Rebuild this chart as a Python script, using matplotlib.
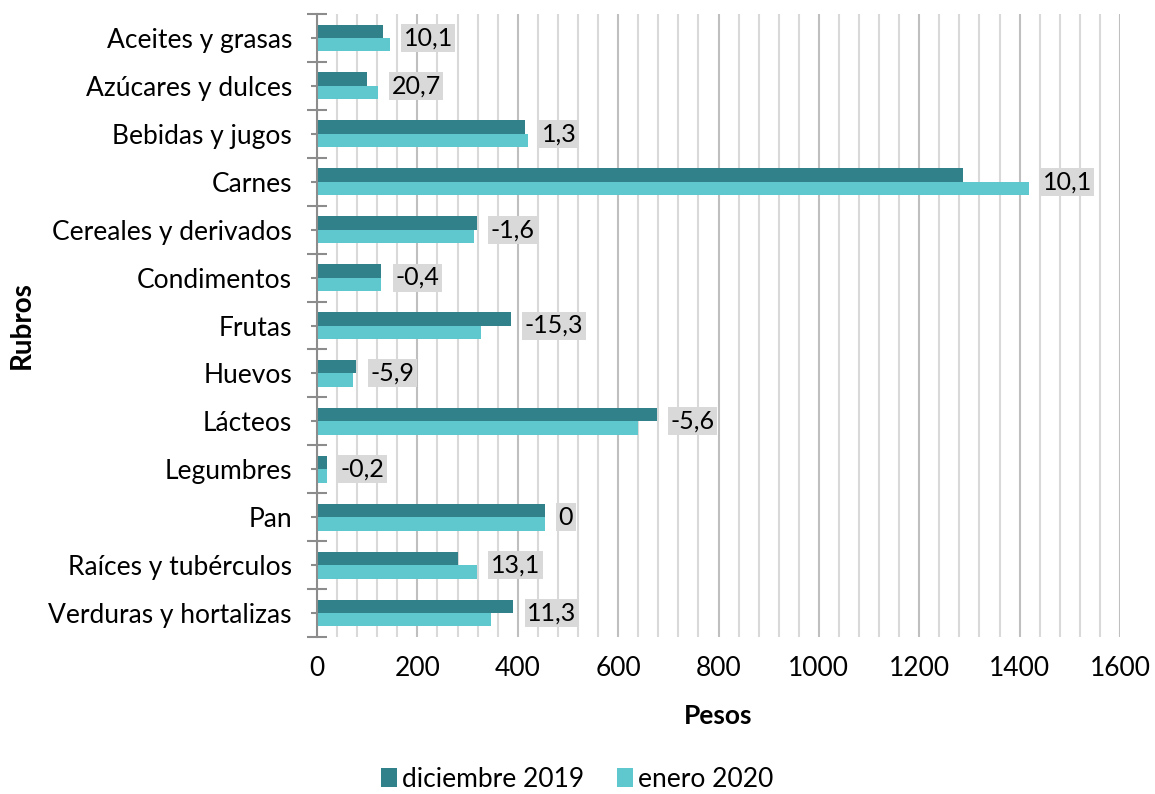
import matplotlib
matplotlib.use("Agg")
import matplotlib.pyplot as plt
import numpy as np
from matplotlib.ticker import MultipleLocator

plt.rcParams['font.family'] = ['Lato', 'DejaVu Sans']

categories = ["Aceites y grasas", "Azúcares y dulces", "Bebidas y jugos", "Carnes",
              "Cereales y derivados", "Condimentos", "Frutas", "Huevos", "Lácteos",
              "Legumbres", "Pan", "Raíces y tubérculos", "Verduras y hortalizas"]
dic_2019 = [131, 100, 414, 1287, 319, 128, 386, 78, 677, 20, 454, 281, 391]
ene_2020 = [145, 121, 420, 1418, 313, 127, 327, 72, 639, 20, 454, 319, 347]
variacion = ["10,1", "20,7", "1,3", "10,1", "-1,6", "-0,4", "-15,3", "-5,9", "-5,6",
             "-0,2", "0", "13,1", "11,3"]

c_dic = "#31818A"
c_ene = "#5FC7CE"

fig = plt.figure(figsize=(11.55, 7.94), dpi=100)
ax = fig.add_axes([317/1155, 1-637/794, (1120-317)/1155, (637-14)/794])

y = np.arange(len(categories))
h = 0.28
ax.barh(y - h/2, dic_2019, height=h, color=c_dic, label="diciembre 2019", zorder=3)
ax.barh(y + h/2, ene_2020, height=h, color=c_ene, label="enero 2020", zorder=3)

for i, (a, b, t) in enumerate(zip(dic_2019, ene_2020, variacion)):
    ax.annotate(t, xy=(max(a, b), y[i]), xytext=(10, 0), textcoords="offset points",
                va="center", ha="left", fontsize=18,
                bbox=dict(boxstyle="square,pad=0.1", fc="#d9d9d9", ec="none"), zorder=4)

ax.set_xlim(0, 1600)
ax.set_ylim(len(categories) - 0.5, -0.5)
ax.xaxis.set_major_locator(MultipleLocator(200))
ax.xaxis.set_minor_locator(MultipleLocator(40))
ax.grid(axis="x", which="minor", color="#d9d9d9", linewidth=1.5, zorder=0)
ax.grid(axis="x", which="major", color="#bfbfbf", linewidth=1.5, zorder=0)
ax.tick_params(axis="x", which="both", length=0, labelsize=19, pad=14)

ax.set_yticks(y)
ax.set_yticklabels(categories, fontsize=19)
ax.set_yticks(np.arange(len(categories) + 1) - 0.5, minor=True)
ax.tick_params(axis="y", which="major", direction="inout", length=8, color="#8c8c8c", width=1.5, pad=14)
ax.tick_params(axis="y", which="minor", direction="inout", length=14, color="#8c8c8c", width=1.5)

for s in ["top", "right", "bottom"]:
    ax.spines[s].set_visible(False)
ax.spines["left"].set_color("#8c8c8c")
ax.spines["left"].set_linewidth(1.5)
ax.spines["left"].set_zorder(5)

ax.set_xlabel("Pesos", fontsize=19, fontweight="bold")
ax.xaxis.set_label_coords(0.5, -0.108)
ax.set_ylabel("Rubros", fontsize=20, fontweight="bold")
ax.yaxis.set_label_coords(-0.352, 0.5)

fig.legend(loc="lower center", bbox_to_anchor=(0.5, -0.027), ncol=2, fontsize=19, frameon=False,
           handlelength=0.6, handleheight=0.7, handletextpad=0.2, columnspacing=1.25)

fig.savefig("out.png", dpi=100)
